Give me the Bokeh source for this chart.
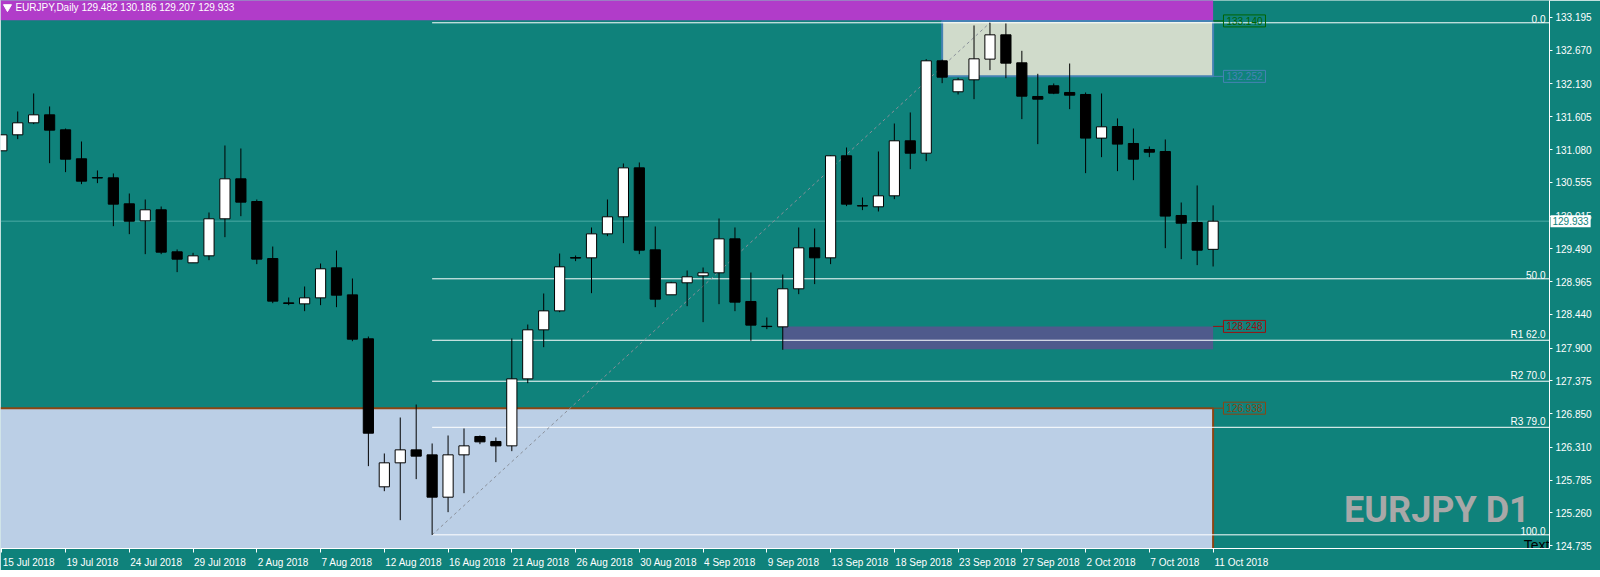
from bokeh.plotting import figure
from bokeh.models import Range1d, FixedTicker, NumeralTickFormatter, CustomJSTickFormatter, Label, Span
from bokeh.embed import file_html
from bokeh.resources import INLINE
from bokeh.core.properties import value

# ---------------- data ----------------
symbol = "EURJPY"
timeframe = "Daily"
opens = [131.060, 131.316, 131.508, 131.636, 131.396, 130.932, 130.630, 130.627, 130.211, 129.939,
         130.115, 129.442, 129.266, 129.378, 129.971, 130.611, 130.248, 129.335, 128.625, 128.609,
         128.705, 129.186, 128.753, 128.049, 125.679, 126.063, 126.271, 126.191, 125.513, 126.191,
         126.485, 126.405, 126.335, 127.408, 128.193, 128.497, 129.350, 129.346, 129.730, 130.003,
         130.787, 129.474, 128.754, 128.946, 129.058, 129.106, 129.650, 128.647, 128.250, 128.241,
         128.850, 129.506, 129.346, 130.980, 130.182, 130.163, 130.339, 131.220, 131.022, 132.501,
         132.005, 132.197, 132.528, 132.917, 132.469, 131.930, 132.101, 131.994, 131.962, 131.263,
         131.449, 131.177, 131.081, 131.049, 130.024, 129.912, 129.482]
highs = [131.320, 131.690, 131.978, 131.770, 131.417, 131.209, 130.745, 130.697, 130.376, 130.280,
         130.168, 129.480, 129.426, 130.072, 131.145, 131.097, 130.280, 129.527, 128.711, 128.887,
         129.255, 129.463, 129.015, 128.086, 126.213, 126.789, 126.997, 126.373, 126.501, 126.613,
         126.501, 126.469, 128.054, 128.278, 128.775, 129.415, 129.383, 129.832, 130.280, 130.857,
         130.873, 129.848, 128.962, 129.143, 129.191, 129.976, 129.832, 129.111, 128.391, 129.079,
         129.832, 129.816, 130.990, 131.113, 130.312, 131.049, 131.497, 131.674, 132.528, 132.520,
         132.229, 133.067, 133.110, 133.099, 132.661, 132.293, 132.138, 132.458, 131.994, 131.978,
         131.578, 131.417, 131.129, 131.241, 130.232, 130.505, 130.186]
lows = [131.060, 131.247, 131.487, 130.862, 130.718, 130.526, 130.542, 129.853, 129.725, 129.405,
        129.405, 129.117, 129.266, 129.309, 129.677, 130.013, 129.245, 128.620, 128.588, 128.492,
        128.588, 128.556, 128.011, 126.010, 125.609, 125.145, 125.802, 124.910, 125.273, 125.577,
        126.362, 126.074, 126.250, 127.339, 127.915, 128.476, 129.293, 128.780, 129.693, 129.581,
        129.405, 128.556, 128.754, 128.572, 128.316, 128.604, 128.492, 128.017, 128.204, 127.873,
        128.764, 128.925, 129.245, 130.174, 130.110, 130.088, 130.286, 130.766, 130.894, 132.143,
        131.962, 131.887, 132.352, 132.223, 131.567, 131.167, 131.967, 131.727, 130.702, 130.958,
        130.734, 130.590, 130.958, 129.501, 129.325, 129.229, 129.207]
closes = [131.316, 131.508, 131.636, 131.391, 130.926, 130.574, 130.625, 130.206, 129.933, 130.115,
          129.437, 129.325, 129.378, 129.971, 130.611, 130.238, 129.325, 128.652, 128.615, 128.705,
          129.170, 128.748, 128.043, 126.538, 126.063, 126.271, 126.170, 125.513, 126.191, 126.335,
          126.399, 126.335, 127.408, 128.193, 128.497, 129.202, 129.342, 129.730, 130.003, 130.787,
          129.469, 128.684, 128.946, 129.042, 129.106, 129.650, 128.636, 128.268, 128.245, 128.850,
          129.506, 129.346, 130.980, 130.206, 130.176, 130.339, 131.220, 131.022, 132.501, 132.239,
          132.197, 132.533, 132.917, 132.464, 131.935, 131.887, 131.983, 131.951, 131.263, 131.444,
          131.167, 130.926, 131.038, 130.014, 129.901, 129.469, 129.933]

date_tick_bars = [0, 4, 8, 12, 16, 20, 24, 28, 32, 36, 40, 44, 48, 52, 56, 60, 64, 68, 72, 76]
date_tick_labels = ["15 Jul 2018", "19 Jul 2018", "24 Jul 2018", "29 Jul 2018", "2 Aug 2018",
                    "7 Aug 2018", "12 Aug 2018", "16 Aug 2018", "21 Aug 2018", "26 Aug 2018",
                    "30 Aug 2018", "4 Sep 2018", "9 Sep 2018", "13 Sep 2018", "18 Sep 2018",
                    "23 Sep 2018", "27 Sep 2018", "2 Oct 2018", "7 Oct 2018", "11 Oct 2018"]
price_ticks = [133.195, 132.670, 132.130, 131.605, 131.080, 130.555, 130.015, 129.490, 128.965,
               128.440, 127.900, 127.375, 126.850, 126.310, 125.785, 125.260, 124.735]

fib_high = 133.110
fib_low = 124.910
fib_start_bar = 27
fib_end_bar = 62
fib_levels = [0.0, 50.0, 62.0, 70.0, 79.0, 100.0]
fib_names = ["0.0", "50.0", "R1 62.0", "R2 70.0", "R3 79.0", "100.0"]

zone_tops = [133.483, 133.140, 128.248, 126.938]
zone_bottoms = [133.150, 132.252, 127.883, 118.000]
zone_start_bars = [-10, 59, 49, -10]
zone_end_bar = 76
label_prices = [133.140, 132.252, 128.248, 126.938]
label_texts = ["133.140", "132.252", "128.248", "126.938"]

# ---------------- styling / layout ----------------
TEAL = "#0F827B"
FONT = "Liberation Sans"
FS = "10px"
FRAME_W = 1549

# reference calibration (pixels of the original screenshot)
def px2x(px):
    return (px - 3.3) / 16.0

def py2y(py):
    return 133.595 - 0.016014 * py

n = len(opens)
idx = list(range(n))

p = figure(frame_width=FRAME_W, frame_height=548, output_backend="svg", toolbar_location=None,
           x_range=Range1d(px2x(2), px2x(1557)), y_range=Range1d(py2y(556), py2y(8)),
           y_axis_location="right", min_border=0)
p.background_fill_color = TEAL
p.border_fill_color = TEAL
p.outline_line_color = None
p.grid.visible = False

# zones
zone_fill = ["#B13CC9", "#D0DBCB", "#4F5A8C", "#BBCFE6"]
zone_line = [None, "#4682B4", None, "#8B4513"]
for i in range(4):
    p.quad(left=zone_start_bars[i], right=zone_end_bar, top=zone_tops[i], bottom=zone_bottoms[i],
           fill_color=zone_fill[i], line_color=zone_line[i], line_width=2)

# bid line
last_close = closes[-1]
p.segment(x0=px2x(2), y0=last_close, x1=px2x(1557), y1=last_close, line_color="#4BA9A3", line_width=1)

# fibonacci
fib_prices = [fib_high - (fib_high - fib_low) * lv / 100.0 for lv in fib_levels]
p.segment(x0=[fib_start_bar] * len(fib_prices), y0=fib_prices, x1=[px2x(1557)] * len(fib_prices),
          y1=fib_prices, line_color="white", line_width=1)
p.text(x=[px2x(1553)] * len(fib_prices), y=fib_prices, text=fib_names, text_align="right",
       text_baseline="bottom", text_color="white", text_font=value(FONT), text_font_size=FS)
p.line(x=[fib_start_bar, fib_end_bar], y=[fib_low, fib_high], line_color="#8A909A",
       line_dash="3 3", line_width=1)

# candles
p.segment(x0=idx, y0=lows, x1=idx, y1=highs, line_color="black", line_width=1)
tops = [max(o, c) for o, c in zip(opens, closes)]
bots = [min(o, c) for o, c in zip(opens, closes)]
fills = ["white" if c >= o else "black" for o, c in zip(opens, closes)]
p.quad(left=[i - 0.32 for i in idx], right=[i + 0.32 for i in idx], top=tops, bottom=bots,
       fill_color=fills, line_color="black", line_width=1)

# zone price labels
label_colors = ["#006400", "#4682B4", "#9B1010", "#8B4513"]
box_x = px2x(1250.8)
p.segment(x0=[zone_end_bar] * 4, y0=label_prices, x1=[px2x(1230)] * 4, y1=label_prices,
          line_color=label_colors, line_width=1)
p.rect(x=[box_x] * 4, y=label_prices, width=42, height=12, width_units="screen",
       height_units="screen", fill_color=None, line_color=label_colors, line_width=1)
p.text(x=[box_x] * 4, y=label_prices, text=label_texts, text_align="center", text_baseline="middle",
       text_color=label_colors, text_font=value(FONT), text_font_size=FS)

# watermark and text object
p.text(x=[px2x(1444)], y=[py2y(517)], text=[f"{symbol} D1"], text_align="center",
       text_baseline="alphabetic", text_color="#A8A8A8", text_font=value("Roboto"),
       text_font_size="36px", text_font_style="bold")
p.text(x=[px2x(1557)], y=[py2y(552)], text=["Text"], text_align="right", text_baseline="alphabetic",
       text_color="black", text_font=value(FONT), text_font_size="14px")

# header
p.scatter(x=[px2x(9)], y=[py2y(14.5)], marker="inverted_triangle", size=8, color="white")
header = f"{symbol},{timeframe}  " + " ".join(f"{v:.3f}" for v in (opens[-1], highs[-1], lows[-1], closes[-1]))
p.text(x=[px2x(17)], y=[py2y(14.5)], text=[header], text_baseline="middle", text_align="left",
       text_color="white", text_font=value(FONT), text_font_size=FS)

# left border
p.add_layout(Span(location=px2x(2), dimension="height", line_color="white", line_width=1))

# current price tag on the price axis (placed in the side panel so it is not clipped)
p.add_layout(Label(x=px2x(1558), y=last_close, text=f"{last_close:.3f}", text_baseline="middle",
                   text_align="left", text_color=TEAL, text_font=FONT, text_font_size=FS,
                   background_fill_color="white", padding=2), "right")

# axes
char_w = {"0": .556, "1": .556, "2": .556, "3": .556, "4": .556, "5": .556, "6": .556, "7": .556,
          "8": .556, "9": .556, " ": .278, "J": .5, "u": .556, "l": .222, "A": .667, "g": .556,
          "S": .667, "e": .556, "p": .556, "O": .778, "c": .5, "t": .278}
def text_w(s):
    return sum(char_w.get(ch, .556) for ch in s) * 10
bar_px = FRAME_W / 1555 * 16
centers = [b + (1 + text_w(s) / 2) / bar_px for b, s in zip(date_tick_bars, date_tick_labels)]

xa = p.xaxis[0]
xa.ticker = FixedTicker(ticks=centers, minor_ticks=date_tick_bars)
xa.formatter = CustomJSTickFormatter(args=dict(pos=centers, labs=date_tick_labels), code="""
let best = 0; let d = 1e9;
for (let i = 0; i < pos.length; i++) { const dd = Math.abs(pos[i] - tick); if (dd < d) { d = dd; best = i; } }
return labs[best];
""")
xa.major_tick_line_color = None
xa.major_tick_out = 0
xa.major_tick_in = 0
xa.minor_tick_line_color = "white"
xa.minor_tick_out = 4
xa.minor_tick_in = 0
xa.axis_line_color = "white"
xa.major_label_text_color = "white"
xa.major_label_text_font = FONT
xa.major_label_text_font_size = FS
xa.major_label_standoff = 4

ya = p.yaxis[0]
ya.ticker = FixedTicker(ticks=price_ticks)
ya.formatter = NumeralTickFormatter(format="0.000")
ya.major_tick_line_color = "white"
ya.major_tick_out = 3
ya.major_tick_in = 0
ya.minor_tick_line_color = None
ya.axis_line_color = "white"
ya.major_label_text_color = "white"
ya.major_label_text_font = FONT
ya.major_label_text_font_size = FS
ya.major_label_standoff = 3

open("out.html", "w").write(file_html(p, INLINE))
